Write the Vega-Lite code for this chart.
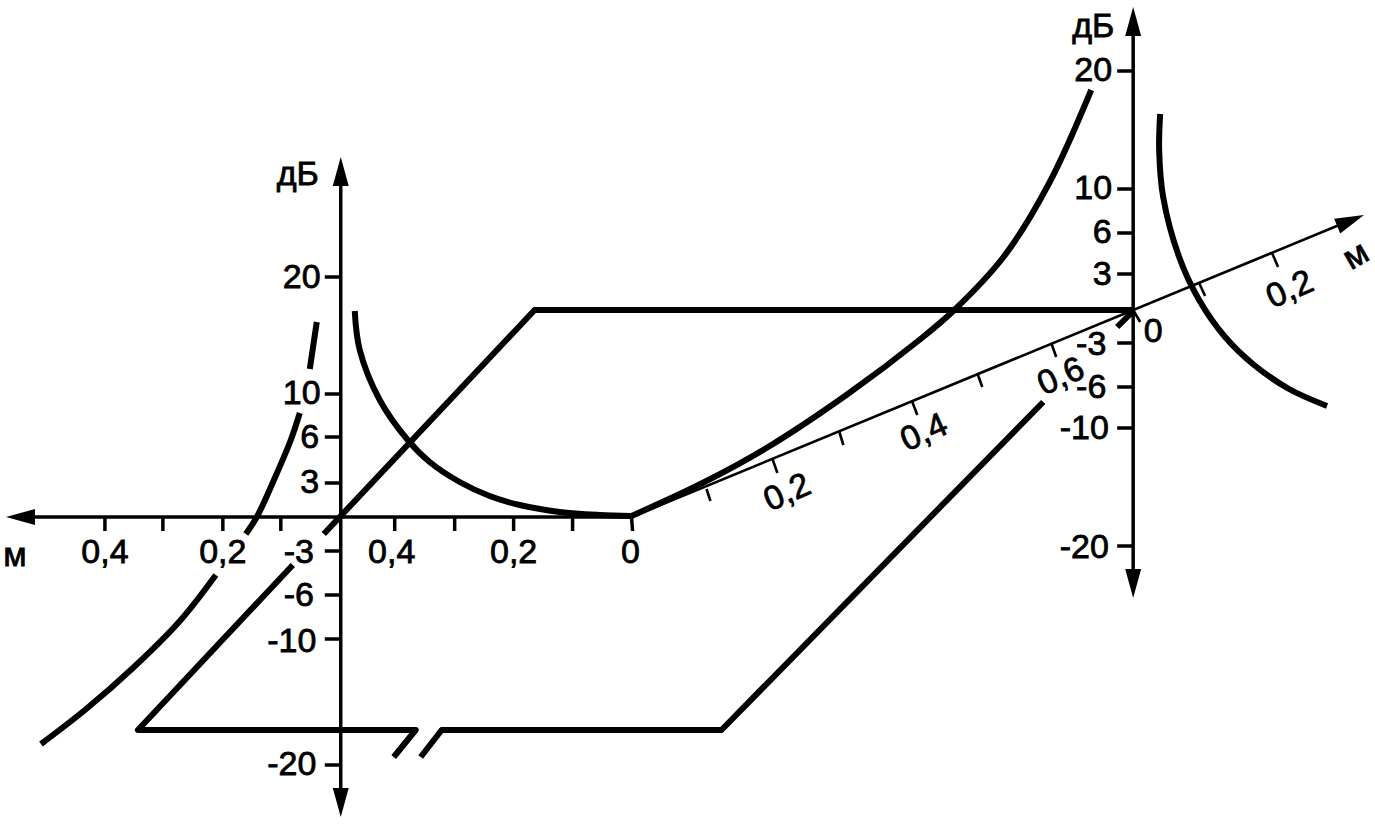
{"$schema":"https://vega.github.io/schema/vega-lite/v6.json","width":1375,"height":824,"padding":0,"autosize":{"type":"fit","contains":"padding"},"background":"white","view":{"stroke":null},"config":{"text":{"font":"Liberation Sans"}},
"encoding":{"x":{"field":"x","type":"quantitative","axis":null,"scale":{"domain":[0,1375],"nice":false,"zero":false}},"y":{"field":"y","type":"quantitative","axis":null,"scale":{"domain":[0,824],"reverse":true,"nice":false,"zero":false}}},
"layer":[
{"data":{"values":[
{"x":632,"y":517,"x2":633,"y2":531},{"x":573,"y":517,"x2":573,"y2":531},{"x":514,"y":517,"x2":514,"y2":531},{"x":455,"y":517,"x2":455,"y2":531},{"x":395,"y":517,"x2":395,"y2":531},{"x":281,"y":517,"x2":281,"y2":531},{"x":223,"y":517,"x2":223,"y2":531},{"x":163,"y":517,"x2":163,"y2":531},{"x":105,"y":517,"x2":105,"y2":531},
{"x":325,"y":277,"x2":341,"y2":277},{"x":325,"y":394,"x2":341,"y2":394},{"x":325,"y":437,"x2":341,"y2":437},{"x":325,"y":483,"x2":341,"y2":483},{"x":325,"y":551,"x2":341,"y2":551},{"x":325,"y":595,"x2":341,"y2":595},{"x":325,"y":639,"x2":341,"y2":639},{"x":325,"y":765,"x2":341,"y2":765},
{"x":1118,"y":71,"x2":1134,"y2":71},{"x":1118,"y":189,"x2":1134,"y2":189},{"x":1118,"y":233,"x2":1134,"y2":233},{"x":1118,"y":274,"x2":1134,"y2":274},{"x":1118,"y":343,"x2":1134,"y2":343},{"x":1118,"y":387,"x2":1134,"y2":387},{"x":1118,"y":428,"x2":1134,"y2":428},{"x":1118,"y":546,"x2":1134,"y2":546},
{"x":341,"y":175,"x2":341,"y2":800},{"x":1134,"y":25,"x2":1134,"y2":580},{"x":25,"y":517,"x2":632,"y2":517}]},
"mark":{"type":"rule","strokeWidth":3.5,"color":"black"},"encoding":{"x2":{"field":"x2"},"y2":{"field":"y2"}}},
{"data":{"values":[
{"x":707,"y":489,"x2":711,"y2":501},{"x":773,"y":459,"x2":778,"y2":473},{"x":840,"y":432,"x2":844,"y2":445},{"x":913,"y":402,"x2":918,"y2":415},{"x":978,"y":373,"x2":983,"y2":387},{"x":1052,"y":343,"x2":1057,"y2":357},{"x":1134,"y":310,"x2":1141,"y2":322},{"x":1200,"y":283,"x2":1206,"y2":296},{"x":1273,"y":253,"x2":1279,"y2":267},{"x":632,"y":517,"x2":1345,"y2":223}]},
"mark":{"type":"rule","strokeWidth":2.6,"color":"black"},"encoding":{"x2":{"field":"x2"},"y2":{"field":"y2"}}},
{"data":{"values":[
{"s":"a","o":1,"x":324,"y":534},{"s":"a","o":2,"x":535,"y":310},{"s":"a","o":3,"x":1134,"y":310},
{"s":"a2","o":1,"x":1118,"y":327},{"s":"a2","o":2,"x":1134,"y":311},
{"s":"b","o":1,"x":293,"y":565},{"s":"b","o":2,"x":138,"y":730},{"s":"b","o":3,"x":416,"y":730},{"s":"b","o":4,"x":394,"y":757},
{"s":"c","o":1,"x":421,"y":757},{"s":"c","o":2,"x":442,"y":730},{"s":"c","o":3,"x":722,"y":730},{"s":"c","o":4,"x":1044,"y":402}]},
"mark":{"type":"line","strokeWidth":6,"color":"black","strokeJoin":"round"},"encoding":{"detail":{"field":"s"},"order":{"field":"o"}}},
{"data":{"values":[
{"s":"A1","o":1,"x":317,"y":322},{"s":"A1","o":2,"x":310,"y":369},
{"s":"A2","o":1,"x":300,"y":413},{"s":"A2","o":2,"x":291,"y":440},{"s":"A2","o":3,"x":275,"y":478},{"s":"A2","o":4,"x":257,"y":517},{"s":"A2","o":5,"x":246,"y":534},
{"s":"A3","o":1,"x":216,"y":575},{"s":"A3","o":2,"x":180,"y":621},{"s":"A3","o":3,"x":133,"y":668},{"s":"A3","o":4,"x":85,"y":710},{"s":"A3","o":5,"x":41,"y":744},
{"s":"B","o":1,"x":355,"y":311},{"s":"B","o":2,"x":360,"y":350},{"s":"B","o":3,"x":380,"y":400},{"s":"B","o":4,"x":408,"y":440},{"s":"B","o":5,"x":430,"y":462},{"s":"B","o":6,"x":460,"y":482},{"s":"B","o":7,"x":490,"y":496},{"s":"B","o":8,"x":520,"y":505},{"s":"B","o":9,"x":560,"y":512},{"s":"B","o":10,"x":600,"y":515},{"s":"B","o":11,"x":632,"y":516},
{"s":"C","o":1,"x":632,"y":516},{"s":"C","o":2,"x":703,"y":483},{"s":"C","o":3,"x":767,"y":448},{"s":"C","o":4,"x":847,"y":395},{"s":"C","o":5,"x":920,"y":340},{"s":"C","o":6,"x":955,"y":310},{"s":"C","o":7,"x":1005,"y":256},{"s":"C","o":8,"x":1050,"y":183},{"s":"C","o":9,"x":1092,"y":90},
{"s":"D","o":1,"x":1161,"y":114},{"s":"D","o":2,"x":1160,"y":150},{"s":"D","o":3,"x":1164,"y":197},{"s":"D","o":4,"x":1180,"y":257},{"s":"D","o":5,"x":1200,"y":300},{"s":"D","o":6,"x":1226,"y":337},{"s":"D","o":7,"x":1255,"y":365},{"s":"D","o":8,"x":1290,"y":389},{"s":"D","o":9,"x":1328,"y":406}]},
"mark":{"type":"line","strokeWidth":6,"color":"black","interpolate":"catmull-rom"},"encoding":{"detail":{"field":"s"},"order":{"field":"o"}}},
{"data":{"values":[
{"x":341,"y":157,"a":0},{"x":341,"y":817,"a":180},{"x":6,"y":517,"a":270},{"x":1134,"y":7,"a":0},{"x":1134,"y":598,"a":180},{"x":1365,"y":215,"a":67.6}]},
"mark":{"type":"point","filled":true,"color":"black","opacity":1,"shape":"M0,0L0.55,2L-0.55,2Z","size":841},"encoding":{"angle":{"field":"a","type":"quantitative","scale":null}}},
{"data":{"values":[
{"t":"дБ","x":298,"y":175},{"t":"20","x":302,"y":278},{"t":"10","x":302,"y":394},{"t":"6","x":310,"y":438},{"t":"3","x":310,"y":483},{"t":"-3","x":299,"y":553},{"t":"-6","x":299,"y":596},{"t":"-10","x":292,"y":642},{"t":"-20","x":292,"y":765},
{"t":"м","x":15,"y":556},{"t":"0,4","x":105,"y":553},{"t":"0,2","x":223,"y":553},{"t":"0,4","x":392,"y":553},{"t":"0,2","x":514,"y":553},{"t":"0","x":631,"y":553},
{"t":"дБ","x":1094,"y":27},{"t":"20","x":1094,"y":71},{"t":"10","x":1094,"y":189},{"t":"6","x":1103,"y":233},{"t":"3","x":1103,"y":275},{"t":"-3","x":1092,"y":345},{"t":"-6","x":1092,"y":388},{"t":"-10","x":1085,"y":429},{"t":"-20","x":1085,"y":548},{"t":"0","x":1154,"y":332}]},
"mark":{"type":"text","fontSize":34,"font":"Liberation Sans","color":"black","stroke":"black","strokeWidth":0.8,"align":"center","baseline":"middle"},"encoding":{"text":{"field":"t"}}},
{"data":{"values":[
{"t":"0,2","x":788,"y":493,"a":-24},{"t":"0,4","x":925,"y":433,"a":-24},{"t":"0,6","x":1062,"y":377,"a":-24},{"t":"0,2","x":1291,"y":290,"a":-24},{"t":"м","x":1357,"y":256,"a":-30}]},
"mark":{"type":"text","fontSize":34,"font":"Liberation Sans","color":"black","stroke":"black","strokeWidth":0.8,"align":"center","baseline":"middle"},"encoding":{"text":{"field":"t"},"angle":{"field":"a","type":"quantitative","scale":null}}}
]}
